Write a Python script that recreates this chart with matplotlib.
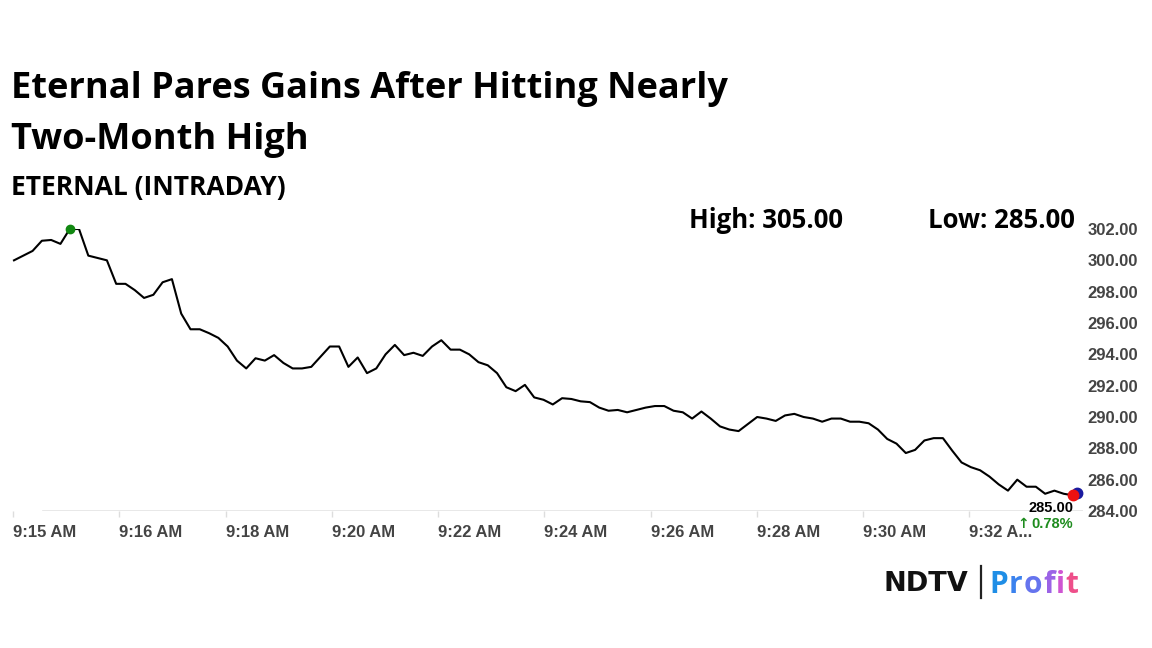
import numpy as np
import matplotlib
matplotlib.use('Agg')
import matplotlib.pyplot as plt
from matplotlib.lines import Line2D
from matplotlib.transforms import offset_copy

# === Dados ===
precos = [
    300.0, 300.3, 300.6, 301.25, 301.3, 301.05, 302.0, 302.0, 300.3, 300.15,
    300.0, 298.5, 298.5, 298.1, 297.6, 297.8, 298.6, 298.8, 296.6, 295.6,
    295.6, 295.35, 295.05, 294.5, 293.6, 293.1, 293.75, 293.6, 293.95, 293.45,
    293.1, 293.1, 293.2, 293.85, 294.5, 294.5, 293.2, 293.8, 292.8, 293.1,
    294.0, 294.6, 293.95, 294.1, 293.9, 294.5, 294.9, 294.3, 294.3, 294.0,
    293.5, 293.3, 292.8, 291.9, 291.65, 292.05, 291.25, 291.1, 290.8, 291.2,
    291.15, 291.0, 290.95, 290.6, 290.4, 290.45, 290.3, 290.45, 290.6, 290.7,
    290.7, 290.4, 290.3, 289.9, 290.35, 289.9, 289.4, 289.2, 289.1, 289.55,
    290.0, 289.9, 289.75, 290.1, 290.2, 290.0, 289.9, 289.7, 289.9, 289.9,
    289.7, 289.7, 289.6, 289.2, 288.6, 288.3, 287.7, 287.9, 288.5, 288.65,
    288.65, 287.85, 287.1, 286.8, 286.6, 286.2, 285.7, 285.3, 286.0, 285.55,
    285.55, 285.1, 285.3, 285.1, 285.0,
]
rotulos_x = ['9:15 AM', '9:16 AM', '9:18 AM', '9:20 AM', '9:22 AM',
             '9:24 AM', '9:26 AM', '9:28 AM', '9:30 AM', '9:32 A...']
rotulos_y = [284, 286, 288, 290, 292, 294, 296, 298, 300, 302]

titulo = ['Eternal Pares Gains After Hitting Nearly', 'Two-Month High']
subtitulo = 'ETERNAL (INTRADAY)'
maxima = 305.00
minima = 285.00
variacao = 0.78

# === Configurações gerais ===
W, H = 1152, 648
fx = lambda px: px / W
fy = lambda py: 1 - py / H
fonte_titulo = 'Open Sans'

fig = plt.figure(figsize=(W / 100, H / 100), dpi=100)
fig.patch.set_facecolor('white')

# eixo: px 0..1083 horizontal, 229..511 vertical
ax = fig.add_axes([0, fy(511), fx(1083), (511 - 229) / H])
x = np.arange(len(precos))
px_por_ponto = 9.29
ax.set_xlim(-14 / px_por_ponto, len(precos) - 1 + 10 / px_por_ponto)
ax.set_ylim(rotulos_y[0], rotulos_y[-1])

# === Linha de preço ===
ax.plot(x, precos, color='black', lw=1.5, solid_joinstyle='round', zorder=3)

i_max = int(np.argmax(precos))
ax.plot(x[i_max], precos[i_max], 'o', color='#118811', ms=6, clip_on=False, zorder=4)

# último ponto: azul por trás, vermelho por cima
desl = offset_copy(ax.transData, fig=fig, x=3, y=1.5, units='points')
ax.plot(x[-1], precos[-1], 'o', color='#1a1aa0', ms=7.5, transform=desl, clip_on=False, zorder=4)
ax.plot(x[-1], precos[-1], 'o', color='#ee1111', ms=7.5, clip_on=False, zorder=5)

ax.annotate(f'{precos[-1]:.2f}', (x[-1], precos[-1]), xytext=(0, -12.3),
            textcoords='offset points', ha='right', va='baseline',
            fontsize=10.5, fontweight='bold', family='Liberation Sans', color='black')
ax.annotate(f'{variacao:.2f}%', (x[-1], precos[-1]), xytext=(0, -23.8),
            textcoords='offset points', ha='right', va='baseline',
            fontsize=10.5, fontweight='bold', family='Liberation Sans', color='#1e8c1e')
ax.annotate('\u2191', (x[-1], precos[-1]), xytext=(-31.5, -23.8),
            textcoords='offset points', ha='right', va='baseline',
            fontsize=10, fontweight='bold', family='DejaVu Sans', color='#1e8c1e')

# === Eixos ===
for s in ax.spines.values():
    s.set_visible(False)
ax.axhline(rotulos_y[0], xmin=43 / 1083, xmax=1, color='#e4e4e4', lw=1.2, zorder=1)

ticks_x = np.arange(len(rotulos_x)) * 106.25 / px_por_ponto - 0.1
ax.set_xticks(ticks_x, rotulos_x)
ax.tick_params(axis='x', length=4, width=1, color='#dddddd', pad=6,
               labelsize=12, labelcolor='#444444')
for t in ax.get_xticklabels():
    t.set_ha('left')
    t.set_fontweight('bold')
    t.set_family('Liberation Sans')

ax.yaxis.tick_right()
ax.set_yticks(rotulos_y, [f'{v:.2f}' for v in rotulos_y])
ax.tick_params(axis='y', length=0, pad=3, labelsize=12, labelcolor='#444444')
for t in ax.get_yticklabels():
    t.set_fontweight('bold')
    t.set_family('Liberation Sans')

# === Textos ===
fig.text(fx(11), fy(98), titulo[0], fontsize=26, fontweight='bold', family=fonte_titulo,
         color='black', va='baseline')
fig.text(fx(11), fy(149), titulo[1], fontsize=26, fontweight='bold', family=fonte_titulo,
         color='black', va='baseline')
fig.text(fx(11), fy(195), subtitulo, fontsize=19, fontweight='bold', family=fonte_titulo,
         color='black', va='baseline')
fig.text(fx(689), fy(228), f'High: {maxima:.2f}', fontsize=18.5, fontweight='bold',
         family=fonte_titulo, color='black', va='baseline')
fig.text(fx(1075), fy(228), f'Low: {minima:.2f}', fontsize=18.5, fontweight='bold',
         family=fonte_titulo, color='black', va='baseline', ha='right')

# === Logo NDTV | Profit ===
fig.text(fx(884), fy(591), 'NDTV', fontsize=19.5, fontweight='heavy',
         family='DejaVu Sans', color='#111111', va='baseline')
fig.add_artist(Line2D([fx(981), fx(981)], [fy(566), fy(598)], color='#222222', lw=1.6))
cores_profit = ['#1f8ee6', '#3b82ee', '#6574ee', '#9b63e6', '#cf55d2', '#ee4f8a']
renderer = fig.canvas.get_renderer()
xpos = 989
for letra, cor in zip('Profit', cores_profit):
    t = fig.text(fx(xpos), fy(593), letra, fontsize=21.5, fontweight='bold',
                 family='Open Sans', color=cor, va='baseline')
    xpos += t.get_window_extent(renderer).width + 1.0

fig.savefig('out.png', dpi=100, facecolor='white')
